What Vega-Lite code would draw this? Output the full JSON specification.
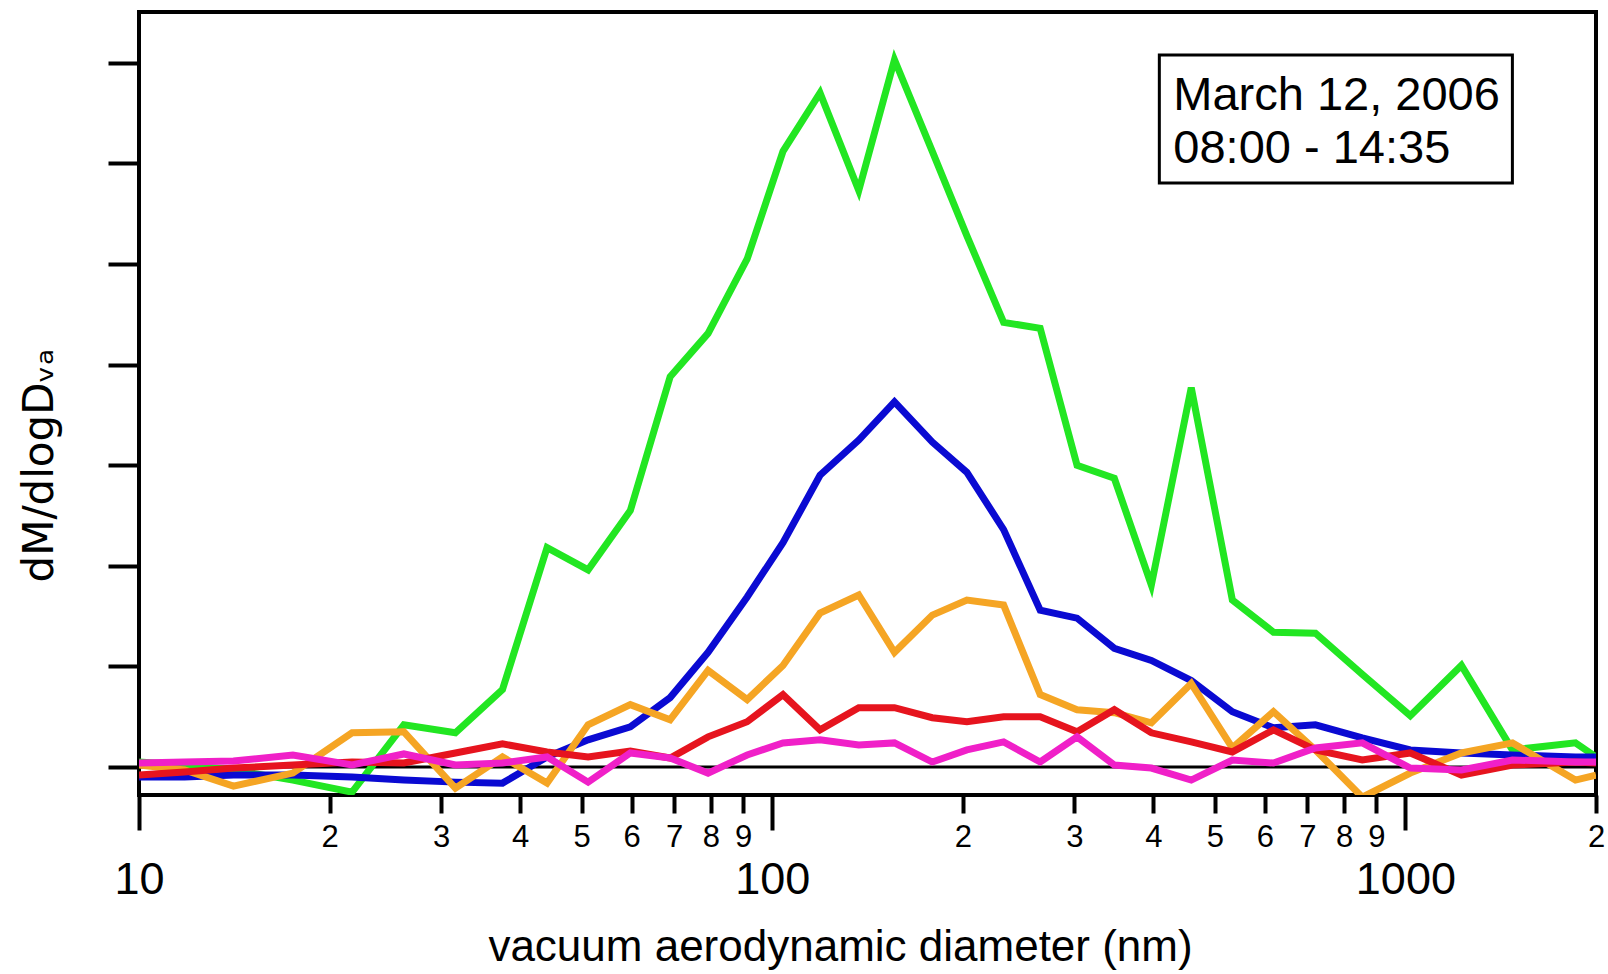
{
  "$schema": "https://vega.github.io/schema/vega-lite/v6.json",
  "width": 1457,
  "height": 783,
  "autosize": "none",
  "padding": {"left": 139, "top": 12, "right": 12, "bottom": 179},
  "background": "white",
  "config": {
    "view": {"stroke": "black", "strokeWidth": 4},
    "font": "Liberation Sans",
    "axis": {"labelColor": "black", "titleColor": "black", "tickColor": "black", "titleFontWeight": "normal"}
  },
  "datasets": {
    "curves": [
      {"series": "A", "diameter": 10, "value": 0.05},
      {"series": "A", "diameter": 11.8, "value": 0.02},
      {"series": "A", "diameter": 14.1, "value": -0.03},
      {"series": "A", "diameter": 17.5, "value": -0.13},
      {"series": "A", "diameter": 21.7, "value": -0.25},
      {"series": "A", "diameter": 26.2, "value": 0.42},
      {"series": "A", "diameter": 31.6, "value": 0.34},
      {"series": "A", "diameter": 37.5, "value": 0.77},
      {"series": "A", "diameter": 44.1, "value": 2.18},
      {"series": "A", "diameter": 51.2, "value": 1.96},
      {"series": "A", "diameter": 59.7, "value": 2.55},
      {"series": "A", "diameter": 69.0, "value": 3.88},
      {"series": "A", "diameter": 79.2, "value": 4.31},
      {"series": "A", "diameter": 91.3, "value": 5.05},
      {"series": "A", "diameter": 104, "value": 6.12},
      {"series": "A", "diameter": 119, "value": 6.70},
      {"series": "A", "diameter": 137, "value": 5.73},
      {"series": "A", "diameter": 156, "value": 7.03},
      {"series": "A", "diameter": 179, "value": 6.12},
      {"series": "A", "diameter": 203, "value": 5.28},
      {"series": "A", "diameter": 232, "value": 4.42},
      {"series": "A", "diameter": 265, "value": 4.36},
      {"series": "A", "diameter": 303, "value": 3.00},
      {"series": "A", "diameter": 347, "value": 2.87},
      {"series": "A", "diameter": 397, "value": 1.81},
      {"series": "A", "diameter": 459, "value": 3.77},
      {"series": "A", "diameter": 533, "value": 1.66},
      {"series": "A", "diameter": 619, "value": 1.34},
      {"series": "A", "diameter": 721, "value": 1.33},
      {"series": "A", "diameter": 855, "value": 0.92},
      {"series": "A", "diameter": 1018, "value": 0.51},
      {"series": "A", "diameter": 1226, "value": 1.01},
      {"series": "A", "diameter": 1476, "value": 0.17},
      {"series": "A", "diameter": 1856, "value": 0.24},
      {"series": "A", "diameter": 2000, "value": 0.10},

      {"series": "B", "diameter": 10, "value": -0.10},
      {"series": "B", "diameter": 11.8, "value": -0.10},
      {"series": "B", "diameter": 14.1, "value": -0.08},
      {"series": "B", "diameter": 17.5, "value": -0.08},
      {"series": "B", "diameter": 21.7, "value": -0.10},
      {"series": "B", "diameter": 26.2, "value": -0.13},
      {"series": "B", "diameter": 31.6, "value": -0.15},
      {"series": "B", "diameter": 37.5, "value": -0.16},
      {"series": "B", "diameter": 44.1, "value": 0.10},
      {"series": "B", "diameter": 51.2, "value": 0.27},
      {"series": "B", "diameter": 59.7, "value": 0.40},
      {"series": "B", "diameter": 69.0, "value": 0.69},
      {"series": "B", "diameter": 79.2, "value": 1.14},
      {"series": "B", "diameter": 91.3, "value": 1.69},
      {"series": "B", "diameter": 104, "value": 2.23},
      {"series": "B", "diameter": 119, "value": 2.90},
      {"series": "B", "diameter": 137, "value": 3.25},
      {"series": "B", "diameter": 156, "value": 3.63},
      {"series": "B", "diameter": 179, "value": 3.23},
      {"series": "B", "diameter": 203, "value": 2.93},
      {"series": "B", "diameter": 232, "value": 2.36},
      {"series": "B", "diameter": 265, "value": 1.56},
      {"series": "B", "diameter": 303, "value": 1.48},
      {"series": "B", "diameter": 347, "value": 1.18},
      {"series": "B", "diameter": 397, "value": 1.06},
      {"series": "B", "diameter": 459, "value": 0.86},
      {"series": "B", "diameter": 533, "value": 0.55},
      {"series": "B", "diameter": 619, "value": 0.39},
      {"series": "B", "diameter": 721, "value": 0.42},
      {"series": "B", "diameter": 855, "value": 0.29},
      {"series": "B", "diameter": 1018, "value": 0.17},
      {"series": "B", "diameter": 1226, "value": 0.14},
      {"series": "B", "diameter": 1476, "value": 0.12},
      {"series": "B", "diameter": 1856, "value": 0.10},
      {"series": "B", "diameter": 2000, "value": 0.10},

      {"series": "C", "diameter": 10, "value": 0.02},
      {"series": "C", "diameter": 11.8, "value": -0.03},
      {"series": "C", "diameter": 14.1, "value": -0.19},
      {"series": "C", "diameter": 17.5, "value": -0.06},
      {"series": "C", "diameter": 21.7, "value": 0.34},
      {"series": "C", "diameter": 26.2, "value": 0.35},
      {"series": "C", "diameter": 31.6, "value": -0.21},
      {"series": "C", "diameter": 37.5, "value": 0.10},
      {"series": "C", "diameter": 44.1, "value": -0.16},
      {"series": "C", "diameter": 51.2, "value": 0.42},
      {"series": "C", "diameter": 59.7, "value": 0.62},
      {"series": "C", "diameter": 69.0, "value": 0.47},
      {"series": "C", "diameter": 79.2, "value": 0.96},
      {"series": "C", "diameter": 91.3, "value": 0.67},
      {"series": "C", "diameter": 104, "value": 1.01},
      {"series": "C", "diameter": 119, "value": 1.53},
      {"series": "C", "diameter": 137, "value": 1.71},
      {"series": "C", "diameter": 156, "value": 1.14},
      {"series": "C", "diameter": 179, "value": 1.51},
      {"series": "C", "diameter": 203, "value": 1.66},
      {"series": "C", "diameter": 232, "value": 1.61},
      {"series": "C", "diameter": 265, "value": 0.72},
      {"series": "C", "diameter": 303, "value": 0.57},
      {"series": "C", "diameter": 347, "value": 0.54},
      {"series": "C", "diameter": 397, "value": 0.44},
      {"series": "C", "diameter": 459, "value": 0.83},
      {"series": "C", "diameter": 533, "value": 0.19},
      {"series": "C", "diameter": 619, "value": 0.55},
      {"series": "C", "diameter": 721, "value": 0.17},
      {"series": "C", "diameter": 855, "value": -0.30},
      {"series": "C", "diameter": 1018, "value": -0.06},
      {"series": "C", "diameter": 1226, "value": 0.14},
      {"series": "C", "diameter": 1476, "value": 0.24},
      {"series": "C", "diameter": 1856, "value": -0.13},
      {"series": "C", "diameter": 2000, "value": -0.08},

      {"series": "D", "diameter": 10, "value": -0.08},
      {"series": "D", "diameter": 11.8, "value": -0.05},
      {"series": "D", "diameter": 14.1, "value": -0.01},
      {"series": "D", "diameter": 17.5, "value": 0.02},
      {"series": "D", "diameter": 21.7, "value": 0.05},
      {"series": "D", "diameter": 26.2, "value": 0.04},
      {"series": "D", "diameter": 31.6, "value": 0.14},
      {"series": "D", "diameter": 37.5, "value": 0.23},
      {"series": "D", "diameter": 44.1, "value": 0.15},
      {"series": "D", "diameter": 51.2, "value": 0.10},
      {"series": "D", "diameter": 59.7, "value": 0.16},
      {"series": "D", "diameter": 69.0, "value": 0.09},
      {"series": "D", "diameter": 79.2, "value": 0.30},
      {"series": "D", "diameter": 91.3, "value": 0.45},
      {"series": "D", "diameter": 104, "value": 0.72},
      {"series": "D", "diameter": 119, "value": 0.37},
      {"series": "D", "diameter": 137, "value": 0.59},
      {"series": "D", "diameter": 156, "value": 0.59},
      {"series": "D", "diameter": 179, "value": 0.49},
      {"series": "D", "diameter": 203, "value": 0.45},
      {"series": "D", "diameter": 232, "value": 0.50},
      {"series": "D", "diameter": 265, "value": 0.50},
      {"series": "D", "diameter": 303, "value": 0.35},
      {"series": "D", "diameter": 347, "value": 0.57},
      {"series": "D", "diameter": 397, "value": 0.34},
      {"series": "D", "diameter": 459, "value": 0.25},
      {"series": "D", "diameter": 533, "value": 0.15},
      {"series": "D", "diameter": 619, "value": 0.37},
      {"series": "D", "diameter": 721, "value": 0.17},
      {"series": "D", "diameter": 855, "value": 0.07},
      {"series": "D", "diameter": 1018, "value": 0.14},
      {"series": "D", "diameter": 1226, "value": -0.08},
      {"series": "D", "diameter": 1476, "value": 0.02},
      {"series": "D", "diameter": 1856, "value": 0.05},
      {"series": "D", "diameter": 2000, "value": 0.04},

      {"series": "E", "diameter": 10, "value": 0.04},
      {"series": "E", "diameter": 11.8, "value": 0.05},
      {"series": "E", "diameter": 14.1, "value": 0.06},
      {"series": "E", "diameter": 17.5, "value": 0.12},
      {"series": "E", "diameter": 21.7, "value": 0.02},
      {"series": "E", "diameter": 26.2, "value": 0.13},
      {"series": "E", "diameter": 31.6, "value": 0.02},
      {"series": "E", "diameter": 37.5, "value": 0.04},
      {"series": "E", "diameter": 44.1, "value": 0.10},
      {"series": "E", "diameter": 51.2, "value": -0.15},
      {"series": "E", "diameter": 59.7, "value": 0.14},
      {"series": "E", "diameter": 69.0, "value": 0.09},
      {"series": "E", "diameter": 79.2, "value": -0.06},
      {"series": "E", "diameter": 91.3, "value": 0.12},
      {"series": "E", "diameter": 104, "value": 0.24},
      {"series": "E", "diameter": 119, "value": 0.27},
      {"series": "E", "diameter": 137, "value": 0.22},
      {"series": "E", "diameter": 156, "value": 0.24},
      {"series": "E", "diameter": 179, "value": 0.05},
      {"series": "E", "diameter": 203, "value": 0.17},
      {"series": "E", "diameter": 232, "value": 0.25},
      {"series": "E", "diameter": 265, "value": 0.05},
      {"series": "E", "diameter": 303, "value": 0.30},
      {"series": "E", "diameter": 347, "value": 0.02},
      {"series": "E", "diameter": 397, "value": -0.01},
      {"series": "E", "diameter": 459, "value": -0.13},
      {"series": "E", "diameter": 533, "value": 0.07},
      {"series": "E", "diameter": 619, "value": 0.04},
      {"series": "E", "diameter": 721, "value": 0.19},
      {"series": "E", "diameter": 855, "value": 0.24},
      {"series": "E", "diameter": 1018, "value": -0.01},
      {"series": "E", "diameter": 1226, "value": -0.03},
      {"series": "E", "diameter": 1476, "value": 0.07},
      {"series": "E", "diameter": 1856, "value": 0.05},
      {"series": "E", "diameter": 2000, "value": 0.05}
    ],
    "box": [{"x1": 408.7, "x2": 1475.7, "y1": 5.805, "y2": 7.078}],
    "note": [
      {"x": 430, "y": 6.53, "text": "March 12, 2006"},
      {"x": 430, "y": 6.0, "text": "08:00 - 14:35"}
    ]
  },
  "layer": [
    {
      "data": {"values": [{}]},
      "mark": {"type": "rule", "color": "black", "strokeWidth": 3},
      "encoding": {
        "y": {"datum": 0, "type": "quantitative", "scale": {"domain": [-0.278, 7.505], "nice": false, "zero": false}}
      }
    },
    {
      "data": {"name": "curves"},
      "mark": {"type": "line", "strokeWidth": 7, "clip": true},
      "encoding": {
        "x": {
          "field": "diameter", "type": "quantitative",
          "scale": {"type": "log", "domain": [10, 2000], "nice": false},
          "axis": {
            "orient": "bottom",
            "values": [20, 30, 40, 50, 60, 70, 80, 90, 200, 300, 400, 500, 600, 700, 800, 900, 2000],
            "labelExpr": "substring(toString(datum.value), 0, 1)",
            "labelFontSize": 31, "labelPadding": 9, "labelBaseline": "top", "labelAlign": "center",
            "labelFlush": false, "labelOverlap": false, "labelBound": false,
            "tickSize": 18, "tickWidth": 4, "domain": false, "grid": false, "title": null
          }
        },
        "y": {
          "field": "value", "type": "quantitative",
          "scale": {"domain": [-0.278, 7.505], "nice": false, "zero": false},
          "axis": {
            "values": [0, 1, 2, 3, 4, 5, 6, 7], "labels": false,
            "tickSize": 31, "tickWidth": 4, "domain": false, "grid": false,
            "title": "dM/dlogDᵥₐ", "titleFontSize": 42, "titleFont": "DejaVu Sans",
            "titleX": -87, "titleY": 453, "titleAngle": 270,
            "titleAlign": "center", "titleBaseline": "alphabetic"
          }
        },
        "color": {
          "field": "series", "type": "nominal",
          "scale": {"domain": ["A", "B", "C", "D", "E"], "range": ["#22e622", "#0a0ad2", "#f5a524", "#e6141e", "#f020c8"]},
          "legend": null
        }
      }
    },
    {
      "data": {"name": "box"},
      "mark": {"type": "rect", "fill": "white", "stroke": "black", "strokeWidth": 3},
      "encoding": {
        "x": {
          "field": "x1", "type": "quantitative",
          "scale": {"type": "log", "domain": [10, 2000], "nice": false},
          "axis": {
            "orient": "bottom",
            "values": [10, 100, 1000],
            "labelExpr": "toString(datum.value)",
            "labelFontSize": 45, "labelPadding": 27, "labelBaseline": "top", "labelAlign": "center",
            "labelFlush": false, "labelOverlap": false, "labelBound": false,
            "tickSize": 35, "tickWidth": 4, "domain": false, "grid": false,
            "title": "vacuum aerodynamic diameter (nm)", "titleFontSize": 44,
            "titleX": 701, "titleY": 165, "titleAlign": "center", "titleBaseline": "alphabetic"
          }
        },
        "x2": {"field": "x2"},
        "y": {"field": "y1", "type": "quantitative", "scale": {"domain": [-0.278, 7.505], "nice": false, "zero": false}},
        "y2": {"field": "y2"}
      }
    },
    {
      "data": {"name": "note"},
      "mark": {"type": "text", "align": "left", "baseline": "alphabetic", "fontSize": 47, "color": "black", "font": "Liberation Sans"},
      "encoding": {
        "x": {"field": "x", "type": "quantitative", "scale": {"type": "log", "domain": [10, 2000], "nice": false}, "axis": null},
        "y": {"field": "y", "type": "quantitative", "scale": {"domain": [-0.278, 7.505], "nice": false, "zero": false}},
        "text": {"field": "text"}
      }
    }
  ],
  "resolve": {"axis": {"x": "independent"}}
}
